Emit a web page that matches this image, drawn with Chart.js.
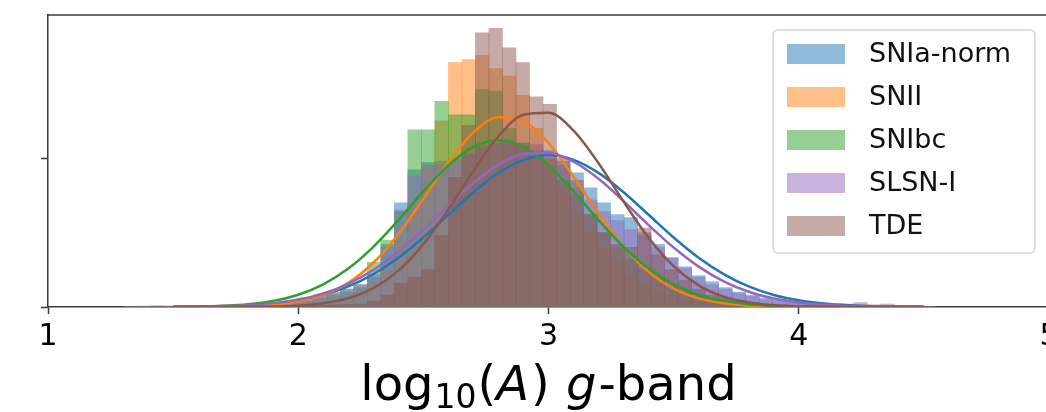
<!DOCTYPE html>
<html>
<head>
<meta charset="utf-8">
<title>log10(A) g-band</title>
<script src="https://cdn.jsdelivr.net/npm/chart.js@4.4.1/dist/chart.umd.min.js"></script>
<style>
  html, body { margin: 0; padding: 0; background: #fff; overflow: hidden; }
  #wrap { width: 1046px; height: 412px; overflow: hidden; }
</style>
</head>
<body>
<div id="wrap"><canvas id="amplitudeHist" width="1100" height="412"></canvas></div>
<script>
// classes, in plotting order
var classNames = ['SNIa-norm', 'SNII', 'SNIbc', 'SLSN-I', 'TDE'];

// histogram bin centres (log10 A)
var binCenters = [
  1.331, 1.385, 1.439, 1.493, 1.547, 1.601, 1.655, 1.709, 1.763, 1.817,
  1.871, 1.925, 1.979, 2.033, 2.087, 2.141, 2.195, 2.249, 2.303, 2.357,
  2.411, 2.465, 2.519, 2.573, 2.627, 2.681, 2.735, 2.789, 2.843, 2.897,
  2.951, 3.005, 3.059, 3.113, 3.167, 3.221, 3.275, 3.329, 3.383, 3.437,
  3.491, 3.545, 3.599, 3.653, 3.707, 3.761, 3.815, 3.869, 3.923, 3.977,
  4.031, 4.085, 4.139, 4.193, 4.247, 4.301, 4.355, 4.409, 4.463, 4.517
];

// normalised histogram heights per class
var histSNIa = [
  0.005, 0.005, 0.008, 0.005, 0.005, 0.006, 0.008, 0.01, 0.012, 0.015,
  0.017, 0.02, 0.03, 0.04, 0.06, 0.08, 0.10, 0.13, 0.20, 0.42,
  0.70, 0.92, 0.97, 0.98, 1.00, 1.03, 1.08, 1.10, 1.10, 1.08,
  1.05, 1.05, 0.98, 0.90, 0.80, 0.70, 0.62, 0.60, 0.50, 0.42,
  0.33, 0.27, 0.21, 0.17, 0.13, 0.10, 0.08, 0.06, 0.05, 0.04,
  0.03, 0.025, 0.02, 0.015, 0.012, 0.01, 0.01, 0.008, 0.006, 0.004
];
var histSNII = [
  0, 0.003, 0, 0.002, 0.003, 0.003, 0.004, 0.005, 0.004, 0.005,
  0.006, 0.008, 0.01, 0.02, 0.03, 0.04, 0.06, 0.10, 0.15, 0.25,
  0.45, 0.70, 0.95, 1.25, 1.64, 1.66, 1.69, 1.60, 1.55, 1.42,
  1.20, 1.00, 0.80, 0.62, 0.50, 0.40, 0.30, 0.22, 0.16, 0.11,
  0.08, 0.05, 0.03, 0.02, 0.01, 0.008, 0.006, 0.004, 0.003, 0.002,
  0.002, 0.001, 0.001, 0, 0, 0, 0, 0, 0, 0
];
var histSNIbc = [
  0.003, 0.004, 0.003, 0.005, 0.004, 0.006, 0.008, 0.01, 0.012, 0.015,
  0.018, 0.02, 0.04, 0.06, 0.08, 0.10, 0.12, 0.15, 0.30, 0.45,
  0.64, 1.19, 1.19, 1.38, 1.29, 1.29, 1.46, 1.45, 1.20, 1.10,
  1.00, 0.95, 0.85, 0.75, 0.62, 0.50, 0.40, 0.32, 0.25, 0.19,
  0.14, 0.10, 0.07, 0.05, 0.03, 0.02, 0.015, 0.01, 0.008, 0.006,
  0.005, 0.004, 0.003, 0.002, 0.002, 0.001, 0.001, 0, 0, 0
];
var histSLSN = [
  0.004, 0.006, 0.004, 0.006, 0.006, 0.008, 0.01, 0.012, 0.015, 0.02,
  0.025, 0.03, 0.04, 0.05, 0.07, 0.09, 0.12, 0.15, 0.22, 0.40,
  0.65, 0.88, 0.95, 0.96, 0.98, 1.02, 1.06, 1.10, 1.12, 1.10,
  1.09, 1.00, 0.95, 0.80, 0.72, 0.64, 0.58, 0.52, 0.48, 0.40,
  0.33, 0.26, 0.20, 0.15, 0.12, 0.09, 0.07, 0.05, 0.04, 0.03,
  0.025, 0.02, 0.015, 0.02, 0.03, 0.015, 0.02, 0.01, 0.008, 0.005
];
var histTDE = [
  0, 0, 0.003, 0, 0, 0.002, 0.003, 0.002, 0.004, 0.004,
  0.005, 0.006, 0.008, 0.01, 0.012, 0.015, 0.018, 0.02, 0.04, 0.08,
  0.16, 0.20, 0.25, 0.48, 0.87, 1.22, 1.84, 1.87, 1.74, 1.64,
  1.41, 1.36, 1.00, 0.85, 0.62, 0.50, 0.42, 0.40, 0.53, 0.35,
  0.25, 0.18, 0.12, 0.08, 0.06, 0.04, 0.03, 0.02, 0.015, 0.012,
  0.01, 0.008, 0.006, 0.005, 0.004, 0.003, 0.005, 0.003, 0.002, 0.002
];

// gaussian fit curves, sampled every 0.1
var fitX = [
  1.5, 1.6, 1.7, 1.8, 1.9, 2.0, 2.1, 2.2, 2.3, 2.4,
  2.5, 2.6, 2.7, 2.8, 2.9, 3.0, 3.1, 3.2, 3.3, 3.4,
  3.5, 3.6, 3.7, 3.8, 3.9, 4.0, 4.1, 4.2, 4.3, 4.4, 4.5
];
var fitSNIa = [
  0.001, 0.002, 0.005, 0.011, 0.023, 0.045, 0.081, 0.138, 0.221, 0.331,
  0.467, 0.619, 0.770, 0.900, 0.988, 1.020, 0.988, 0.900, 0.770, 0.619,
  0.467, 0.331, 0.221, 0.138, 0.081, 0.045, 0.023, 0.011, 0.005, 0.002, 0.001
];
var fitSNII = [
  0, 0, 0.002, 0.005, 0.014, 0.036, 0.080, 0.162, 0.297, 0.489,
  0.726, 0.972, 1.172, 1.274, 1.248, 1.101, 0.876, 0.628, 0.406, 0.236,
  0.124, 0.058, 0.025, 0.010, 0.003, 0.001, 0, 0, 0, 0, 0
];
var fitSNIbc = [
  0.001, 0.003, 0.008, 0.019, 0.041, 0.082, 0.152, 0.258, 0.404, 0.583,
  0.776, 0.951, 1.075, 1.120, 1.075, 0.951, 0.776, 0.583, 0.404, 0.258,
  0.152, 0.082, 0.041, 0.019, 0.008, 0.003, 0.001, 0, 0, 0, 0
];
var fitSLSN = [
  0, 0.002, 0.006, 0.012, 0.026, 0.050, 0.091, 0.156, 0.248, 0.371,
  0.519, 0.679, 0.833, 0.956, 1.028, 1.034, 0.975, 0.861, 0.711, 0.550,
  0.399, 0.271, 0.172, 0.102, 0.057, 0.030, 0.015, 0.007, 0.003, 0.001, 0
];
var fitTDE = [
  0, 0, 0, 0.001, 0.003, 0.009, 0.025, 0.059, 0.127, 0.244,
  0.422, 0.655, 0.914, 1.146, 1.290, 1.304, 1.184, 0.965, 0.707, 0.464,
  0.274, 0.145, 0.069, 0.030, 0.011, 0.004, 0.001, 0, 0, 0, 0
];

var xTicks = [1, 2, 3, 4, 5];
var yTicks = [0, 1];

// tab10 colours
var palette = ['31, 119, 180', '255, 127, 14', '44, 160, 44', '148, 103, 189', '140, 86, 75'];
var FONT = '"DejaVu Sans", sans-serif';
var SPINE = '#3a3a3a';

var histSeries = [histSNIa, histSNII, histSNIbc, histSLSN, histTDE];
var fitSeries = [fitSNIa, fitSNII, fitSNIbc, fitSLSN, fitTDE];

var datasets = [];
histSeries.forEach(function(values, i) {
    datasets.push({
        type: 'bar',
        label: classNames[i],
        data: binCenters.map(function(x, k) { return {x: x, y: values[k]}; }),
        backgroundColor: 'rgba(' + palette[i] + ', 0.5)',
        borderWidth: 0,
        grouped: false,
        barPercentage: 1,
        categoryPercentage: 1,
        order: 10 - i
    });
});
fitSeries.forEach(function(values, i) {
    datasets.push({
        type: 'line',
        label: classNames[i] + ' fit',
        data: fitX.map(function(x, k) { return {x: x, y: values[k]}; }),
        borderColor: 'rgb(' + palette[i] + ')',
        borderWidth: 2.5,
        pointRadius: 0,
        fill: false,
        cubicInterpolationMode: 'monotone',
        order: -1 - i
    });
});

// top and right spines
var framePlugin = {
    id: 'frame',
    afterDatasetsDraw: function(chart) {
        var ctx = chart.ctx, a = chart.chartArea;
        ctx.save();
        ctx.strokeStyle = SPINE;
        ctx.lineWidth = 1.5;
        ctx.beginPath();
        ctx.moveTo(a.left, a.top);
        ctx.lineTo(a.right, a.top);
        ctx.lineTo(a.right, a.bottom);
        ctx.stroke();
        ctx.restore();
    }
};

// legend box in the upper right corner of the axes
var legendBoxPlugin = {
    id: 'legendBox',
    afterDraw: function(chart) {
        var ctx = chart.ctx, a = chart.chartArea;
        var w = 262, h = 223;
        var left = a.right - 276, top = a.top + 15;
        ctx.save();
        ctx.beginPath();
        ctx.roundRect(left, top, w, h, 5);
        ctx.fillStyle = 'rgba(255, 255, 255, 0.8)';
        ctx.fill();
        ctx.strokeStyle = '#d6d6d6';
        ctx.lineWidth = 1.5;
        ctx.stroke();

        var bars = chart.data.datasets.filter(function(d) { return d.type === 'bar'; });
        ctx.font = '27px ' + FONT;
        ctx.textBaseline = 'middle';
        ctx.textAlign = 'left';
        bars.forEach(function(d, i) {
            var cy = top + 24 + i * 43;
            ctx.fillStyle = d.backgroundColor;
            ctx.fillRect(left + 14, cy - 10, 58, 20);
            ctx.fillStyle = '#111';
            ctx.fillText(d.label, left + 96, cy + 1);
        });
        ctx.restore();
    }
};

// x axis title with subscript and italic symbols
var axisTitlePlugin = {
    id: 'axisTitle',
    afterDraw: function(chart) {
        var ctx = chart.ctx, a = chart.chartArea;
        var big = '48px ' + FONT, small = '33px ' + FONT, ital = 'italic 48px ' + FONT;
        var parts = [
            {t: 'log', f: big, dy: 0, gap: 1},
            {t: '10', f: small, dy: 8, gap: 1},
            {t: '(', f: big, dy: 0, gap: 0},
            {t: 'A', f: ital, dy: 0, gap: 2},
            {t: ') ', f: big, dy: 0, gap: 1},
            {t: 'g', f: ital, dy: 0, gap: 2},
            {t: '-band', f: big, dy: 0, gap: 0}
        ];
        ctx.save();
        var total = 0;
        parts.forEach(function(p) {
            ctx.font = p.f;
            p.w = ctx.measureText(p.t).width + p.gap;
            total += p.w;
        });
        var x = (a.left + a.right) / 2 - total / 2;
        var base = a.bottom + 93;
        ctx.fillStyle = '#000';
        ctx.textBaseline = 'alphabetic';
        ctx.textAlign = 'left';
        parts.forEach(function(p) {
            ctx.font = p.f;
            ctx.fillText(p.t, x, base + p.dy);
            x += p.w;
        });
        ctx.restore();
    }
};

new Chart(document.getElementById('amplitudeHist'), {
    type: 'bar',
    data: { datasets: datasets },
    options: {
        responsive: false,
        animation: false,
        devicePixelRatio: 1,
        layout: { padding: { left: 0, top: 15, right: 51, bottom: 0 } },
        plugins: {
            legend: { display: false },
            tooltip: { enabled: false },
            title: { display: false }
        },
        scales: {
            x: {
                type: 'linear',
                min: 1,
                max: 5,
                offset: false,
                afterBuildTicks: function(s) { s.ticks = xTicks.map(function(v) { return {value: v}; }); },
                afterFit: function(s) { s.height = 105; },
                ticks: {
                    color: '#000',
                    font: { family: 'DejaVu Sans', size: 30 },
                    padding: 5,
                    maxRotation: 0,
                    autoSkip: false
                },
                grid: {
                    offset: false,
                    drawOnChartArea: false,
                    drawTicks: true,
                    tickLength: 7,
                    tickColor: SPINE,
                    tickWidth: 1.5
                },
                border: { display: true, color: SPINE, width: 1.5 }
            },
            y: {
                min: 0,
                max: 1.96,
                afterBuildTicks: function(s) { s.ticks = yTicks.map(function(v) { return {value: v}; }); },
                afterFit: function(s) { s.width = 48; },
                ticks: { callback: function() { return ''; } },
                grid: { drawOnChartArea: false, drawTicks: true, tickLength: 7, tickColor: SPINE, tickWidth: 1.5 },
                border: { display: true, color: SPINE, width: 1.5 }
            }
        }
    },
    plugins: [framePlugin, legendBoxPlugin, axisTitlePlugin]
});
</script>
</body>
</html>
